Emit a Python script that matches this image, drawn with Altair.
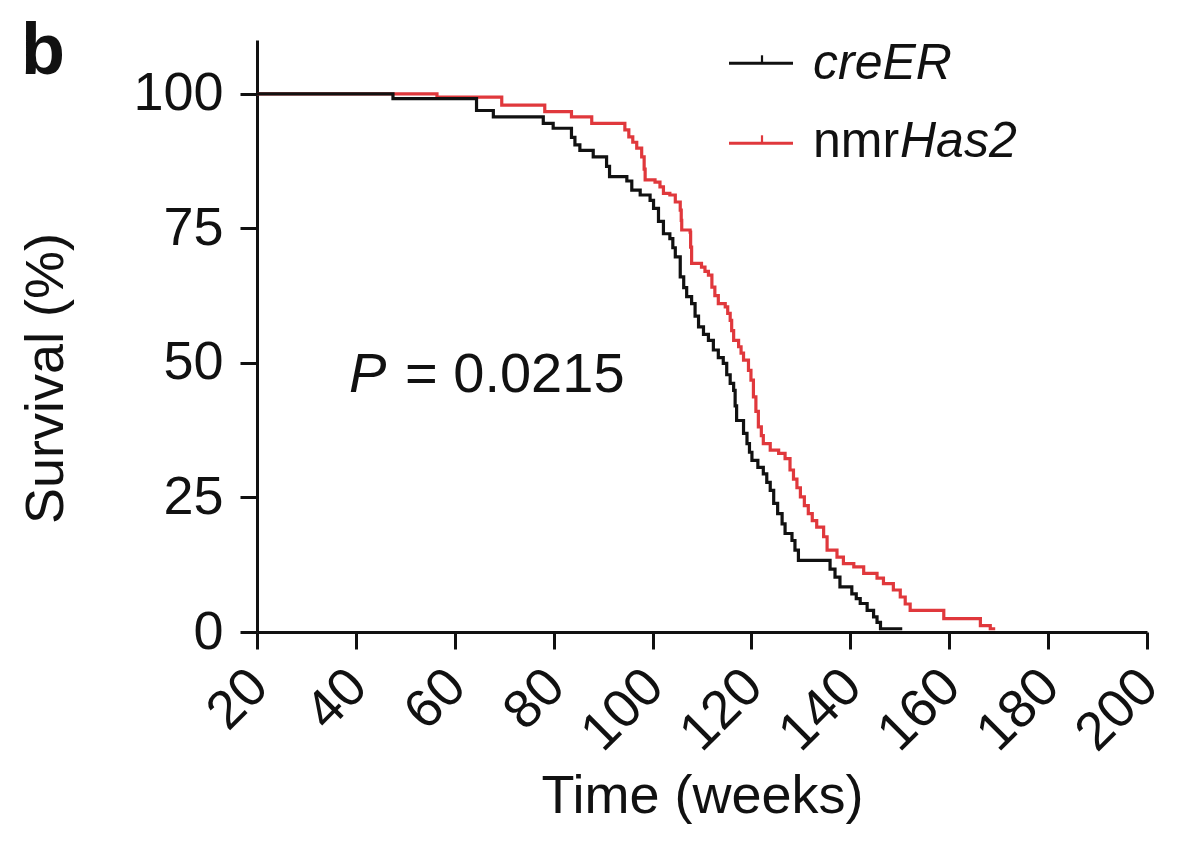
import altair as alt
import pandas as pd

# Kaplan-Meier survival, values (step-after)
creer_weeks = [20, 47.5, 64.4, 67.8, 77.9, 79.9, 83.6, 84.3, 85.3, 88.0, 90.7, 91.3,
               94.8, 95.8, 97.5, 99.5, 100.2, 101.2, 102.2, 103.5, 104.1, 104.6, 105.6,
               106.3, 106.9, 107.9, 108.6, 109.3, 110.3, 111.3, 112.3, 113.3, 114.3, 115.0,
               115.7, 116.4, 116.7, 117.0, 118.4, 119.1, 119.6, 120.1, 121.3, 122.4, 123.1,
               123.8, 124.5, 125.3, 126.2, 126.8, 128.2, 128.8, 129.5, 135.9, 136.9, 137.9,
               140.3, 141.2, 142.0, 143.4, 144.7, 145.4, 146.1, 150.5]
creer_surv = [100, 99.1, 96.9, 95.7, 94.5, 93.6, 91.9, 90.5, 89.5, 88.3, 86.5, 84.6,
              83.8, 82.1, 81.2, 80.2, 78.7, 76.3, 74.0, 73.1, 71.4, 69.7, 66.0,
              64.0, 62.3, 61.0, 58.7, 56.7, 55.3, 54.2, 52.4, 51.0, 49.9, 47.8,
              46.2, 44.9, 42.0, 39.3, 36.9, 35.0, 33.4, 31.9, 30.6, 29.4, 27.8,
              26.3, 23.9, 22.0, 20.1, 18.3, 17.0, 15.2, 13.3, 11.7, 10.2, 8.4,
              7.1, 6.2, 5.3, 4.0, 2.8, 1.8, 0.6, 0.6]

nmr_weeks = [20, 56.4, 69.5, 78.2, 83.6, 87.7, 94.4, 95.2, 96.0, 96.8, 97.8, 98.3, 98.5,
             100.5, 101.5, 102.2, 103.5, 104.6, 105.6, 105.8, 105.9, 107.6, 107.7, 107.9,
             109.9, 110.6, 111.3, 112.0, 112.6, 113.3, 114.7, 115.2, 115.7, 116.0, 116.4,
             117.4, 117.9, 118.4, 119.4, 119.9, 120.4, 120.9, 121.4, 122.0, 122.4, 123.8,
             125.5, 126.8, 127.8, 128.5, 129.2, 129.9, 130.7, 131.5, 132.3, 133.2, 134.6,
             135.3, 137.3, 138.6, 140.7, 142.7, 145.4, 146.7, 148.7, 150.1, 151.1, 152.1,
             158.9, 166.3, 168.3, 169.3]
nmr_surv = [100, 99.4, 97.9, 96.7, 95.7, 94.5, 93.3, 92.0, 91.0, 89.9, 88.3, 86.0, 84.0,
            83.6, 82.7, 81.5, 81.2, 79.9, 78.4, 76.5, 74.7, 74.3, 71.5, 68.5,
            67.8, 67.0, 66.3, 64.1, 62.5, 61.0, 60.4, 59.2, 57.9, 56.0, 54.2,
            53.0, 51.8, 50.5, 48.6, 46.8, 43.7, 41.0, 38.1, 36.5, 35.0, 33.8,
            33.2, 32.2, 30.1, 28.4, 26.8, 25.1, 23.5, 22.0, 20.7, 19.5, 17.7,
            15.2, 13.9, 12.7, 12.1, 10.9, 10.0, 9.0, 7.8, 6.5, 5.2, 4.0,
            2.5, 1.2, 0.6, 0.6]

groups = ["creER", "nmrHas2"]
colors = ["#111111", "#e0383c"]
x_ticks = [20, 40, 60, 80, 100, 120, 140, 160, 180, 200]
y_ticks = [0, 25, 50, 75, 100]

FONT = "Liberation Sans"

df_cre = pd.DataFrame({"weeks": creer_weeks, "survival": creer_surv, "group": groups[0]})
df_nmr = pd.DataFrame({"weeks": nmr_weeks, "survival": nmr_surv, "group": groups[1]})

x_enc = alt.X("weeks:Q", title="Time (weeks)",
              scale=alt.Scale(domain=[20, 200], nice=False, zero=False),
              axis=alt.Axis(values=x_ticks, labelAngle=-45, labelAlign="right",
                            labelBaseline="middle", labelPadding=29, labelOffset=2,
                            titleY=180, titleBaseline="alphabetic"))
y_enc = alt.Y("survival:Q", title="Survival (%)",
              scale=alt.Scale(domain=[0, 110], nice=False),
              axis=alt.Axis(values=y_ticks, labelPadding=17,
                            titleX=-195, titleY=338, titleBaseline="alphabetic"))

red_line = alt.Chart(df_nmr).mark_line(interpolate="step-after", strokeWidth=3.2,
                                       color=colors[1]).encode(x=x_enc, y=y_enc)
black_line = alt.Chart(df_cre).mark_line(interpolate="step-after", strokeWidth=3.2,
                                         color=colors[0]).encode(x="weeks:Q", y="survival:Q")

one = pd.DataFrame({"k": [0]})

# legend drawn by hand (mixed italic text)
leg_lines = []
for name, col, yy in zip(groups, colors, [23.3, 103.3]):
    leg_lines.append(alt.Chart(one).mark_rule(color=col, strokeWidth=3).encode(
        x=alt.value(472), x2=alt.value(536), y=alt.value(yy)))
    leg_lines.append(alt.Chart(one).mark_rule(color=col, strokeWidth=2.2).encode(
        x=alt.value(505), y=alt.value(yy - 8), y2=alt.value(yy)))


def label(txt, x, y, size, style="normal", weight="normal", color="#111111"):
    return alt.Chart(one).mark_text(text=txt, font=FONT, fontSize=size, fontStyle=style,
                                    fontWeight=weight, align="left", baseline="alphabetic",
                                    color=color).encode(x=alt.value(x), y=alt.value(y))


texts = [
    label("creER", 556, 38.5, 50, style="italic"),
    label("nmr", 556, 117, 50),
    label("Has2", 643, 117, 50, style="italic"),
    label("P", 92, 352, 56, style="italic"),
    label("= 0.0215", 148, 352, 56),
    label("b", -236, 34, 72, weight="bold"),
]

chart = alt.layer(red_line, black_line, *leg_lines, *texts).properties(
    width=890, height=592,
    autosize=alt.AutoSizeParams(type="none"),
    padding={"left": 249, "top": 32, "right": 30, "bottom": 212},
).configure_view(stroke=None).configure_axis(
    grid=False, domainColor="#111111", domainWidth=3, tickColor="#111111", tickWidth=3,
    tickSize=17, labelFont=FONT, labelFontSize=54, labelColor="#111111",
    titleFont=FONT, titleFontSize=54, titleFontWeight="normal", titleColor="#111111",
    labelOverlap=False, labelFlush=False,
)

chart.save("out.html", embed_options={"renderer": "svg", "actions": False})
